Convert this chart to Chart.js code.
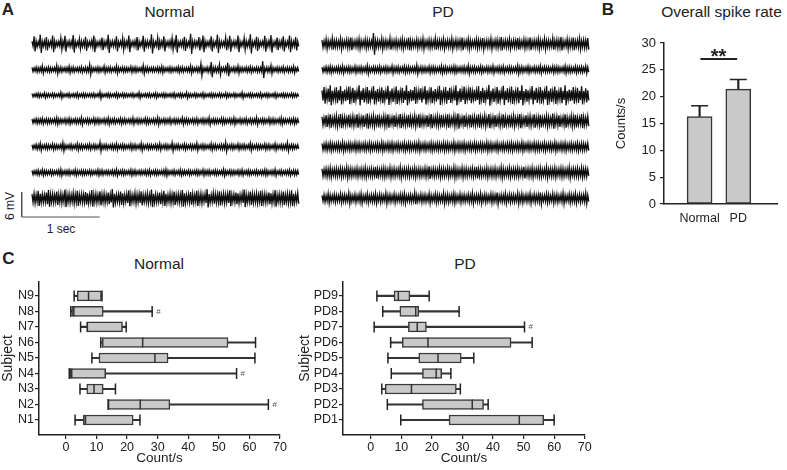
<!DOCTYPE html>
<html>
<head>
<meta charset="utf-8">
<script src="https://cdn.jsdelivr.net/npm/chart.js@4.4.1/dist/chart.umd.min.js"></script>
<style>
  body { margin: 0; background: #fff; }
  #page { position: relative; width: 787px; height: 470px; overflow: hidden; font-family: 'Liberation Sans', Arial, sans-serif; color: #222; }
  canvas { position: absolute; }
  .lbl { position: absolute; white-space: nowrap; line-height: 1; transform: translate(-50%, -50%); }
  .head { font-size: 15.5px; }
  .panel { font-size: 17px; font-weight: bold; }
  .small { font-size: 12px; }
</style>
</head>
<body>
<div id="page">
  <div class="lbl panel" style="left:8px; top:9px;">A</div>
  <div class="lbl panel" style="left:608px; top:9px;">B</div>
  <div class="lbl panel" style="left:8.5px; top:258px;">C</div>

  <div class="lbl head" style="left:169.5px; top:11.5px;">Normal</div>
  <div class="lbl head" style="left:443px; top:11.5px;">PD</div>
  <div class="lbl head" style="left:721.5px; top:12px;">Overall spike rate</div>
  <div class="lbl head" style="left:159px; top:264px;">Normal</div>
  <div class="lbl head" style="left:465px; top:264px;">PD</div>

  <div class="lbl small" style="left:9.5px; top:206px; transform: translate(-50%, -50%) rotate(-90deg);">6 mV</div>
  <div class="lbl small" style="left:61px; top:229px;">1 sec</div>

  <canvas id="traceNormal" width="290" height="195" style="left:15px; top:28px;"></canvas>
  <canvas id="tracePD" width="275" height="195" style="left:318px; top:28px;"></canvas>
  <canvas id="rateChart" width="187" height="215" style="left:600px; top:25px;"></canvas>
  <canvas id="boxNormal" width="300" height="200" style="left:0px; top:270px;"></canvas>
  <canvas id="boxPD" width="313" height="200" style="left:297px; top:270px;"></canvas>
</div>

<script>
// ---- A: raw traces, envelope per bin (0.1 mV units), top trace first ----
const normalTrace1 = [6,18,7,5,22,6,7,16,5,6,20,7,5,6,14,6,19,5,7,6,21,6,5,12,7,6,17,5,6,8,20,6,5,7,15,6,6,22,5,7,6,18,5,6,14,7,6,20,5,6,7,16,6,5,19,6,7,5,23,6,5,15,7,6,18,5,6,7,14,6,21,5,6,7,17,6,5,24,6,7,5,16,6,20,7,5,6,18,6,5,22,7,6,5,15,6,19,5,7,6,20,6,5,14,7,6,23,5,6,17,7,5,6,19,6,7,21,5,6,15,6,7,18,5,6,20,7,6,16,6];
const normalTrace2 = [5,4,6,5,5,9,4,5,6,5,4,5,10,5,6,4,5,5,8,5,6,4,5,5,7,4,6,5,12,5,4,5,6,5,4,8,5,5,6,4,5,9,5,4,6,5,5,4,7,5,6,5,4,5,10,5,6,4,5,5,4,6,5,8,5,4,5,6,5,4,5,7,5,6,4,5,5,9,5,4,6,5,14,5,4,6,5,18,5,6,5,12,4,5,6,16,5,4,6,5,9,5,5,4,6,5,7,5,4,6,5,5,20,4,6,5,10,5,4,6,5,5,7,4,6,5,5,8,4,5];
const normalTrace3 = [4,3,4,5,4,3,6,4,4,3,5,4,3,4,7,4,3,4,5,3,4,4,6,3,4,5,4,3,4,4,5,3,4,8,4,3,4,5,4,3,4,6,4,3,5,4,4,3,4,5,3,4,7,4,3,4,4,5,3,4,6,4,3,4,5,4,3,4,4,6,3,4,5,4,3,7,4,4,3,5,4,3,4,6,4,3,4,5,4,4,3,5,4,3,6,4,4,3,5,4,3,4,7,4,3,4,5,4,3,4,4,6,3,4,5,4,3,4,6,4,3,4,5,4,4,3,5,4,4,3];
const normalTrace4 = [5,4,6,5,5,7,4,6,5,5,4,6,8,5,5,4,6,5,7,5,4,6,5,5,9,4,5,6,5,4,7,5,6,5,4,6,5,8,5,5,6,4,5,7,5,6,4,5,5,8,4,6,5,5,4,7,6,5,4,6,5,9,5,4,6,5,5,7,4,6,5,5,4,8,5,6,5,4,6,5,7,4,5,6,5,5,9,4,6,5,5,4,7,6,5,4,6,5,8,5,4,6,5,5,7,4,6,5,5,9,4,5,6,5,4,7,5,6,5,4,6,8,5,5,4,6,5,7,5,5];
const normalTrace5 = [5,4,6,5,9,4,5,6,5,4,7,5,5,4,6,10,5,4,5,6,4,5,8,5,6,4,5,5,7,4,6,5,4,11,5,5,6,4,5,6,5,8,4,5,6,5,4,5,7,5,6,4,5,9,5,4,6,5,5,4,6,5,8,4,5,6,5,4,10,5,5,6,4,5,7,5,4,6,5,5,9,4,5,6,5,4,5,8,5,6,4,5,6,5,11,4,5,6,5,4,7,5,5,6,4,5,9,5,4,6,5,5,4,7,5,6,4,5,8,5,4,6,5,5,10,4,6,5,4,5];
const normalTrace6 = [5,4,5,6,4,7,5,5,4,6,5,4,5,6,8,4,5,5,6,4,5,7,5,4,6,5,5,4,6,5,4,5,7,5,6,4,5,5,4,6,5,8,4,5,6,5,4,5,7,5,6,4,5,5,4,6,5,7,4,5,6,5,4,5,6,8,5,4,5,6,4,5,7,5,5,4,6,5,4,5,6,5,4,7,5,5,6,4,5,6,5,4,5,8,5,4,6,5,5,4,6,5,7,4,5,6,5,4,5,6,4,5,5,7,6,4,5,5,8,4,5,6,4,5,5,7,4,6,5,5];
const normalTrace7 = [10,12,9,18,11,10,9,14,20,10,11,9,16,10,12,9,21,10,11,9,13,10,18,9,11,10,15,12,9,20,10,11,9,17,10,12,9,14,10,22,11,9,10,16,12,9,11,19,10,9,13,10,11,17,9,10,12,9,21,11,10,9,14,10,18,11,9,12,10,16,9,11,10,20,12,9,10,15,11,9,18,10,12,9,11,22,10,9,13,11,10,17,9,12,10,11,19,9,10,14,12,9,11,21,10,9,16,11,10,12,9,18,10,11,9,14,12,10,20,9,11,10,16,9,12,10,19,11,9,13];

const pdTrace1 = [9,7,12,8,7,14,8,9,7,13,8,7,10,9,15,7,8,9,12,8,7,11,9,8,7,26,8,9,7,13,8,9,7,14,8,8,10,7,9,12,8,7,15,9,8,7,11,8,9,13,7,8,10,9,7,14,8,9,8,12,7,9,8,13,7,10,8,9,15,7,8,12,9,7,8,11,9,8,14,7,9,8,13,7,9,10,8,16,7,9,8,12,7,9,8,14,8,7,11,9,8,15,7,9,8,12,9,7,13,8,9,7,14,8,10,9,16,8,7,12,9,8,15,7,9,13,8,10,9,14];
const pdTrace2 = [6,5,7,6,8,6,5,6,7,6,9,5,6,7,6,5,8,6,6,7,5,6,10,6,5,7,6,6,8,5,6,7,6,5,9,6,6,7,5,6,8,6,7,5,6,6,11,5,7,6,6,5,8,6,7,6,5,6,9,6,7,5,6,6,8,7,5,6,6,7,5,10,6,6,7,5,6,8,6,5,7,6,6,9,5,6,7,6,8,5,6,7,6,5,6,10,6,7,5,6,8,6,5,7,6,6,9,5,7,6,6,5,8,6,7,6,5,6,9,6,7,6,5,8,6,6,7,5,9,6];
const pdTrace3 = [12,20,10,16,24,11,10,19,12,22,10,14,11,21,10,18,12,10,24,11,17,10,20,12,10,22,11,15,10,19,12,10,23,11,16,10,21,12,10,18,11,24,10,14,12,20,10,11,17,10,22,12,10,19,11,15,10,23,12,10,20,11,18,10,12,24,10,16,11,21,10,12,19,10,14,11,22,10,18,12,10,25,11,16,10,20,12,10,23,11,17,10,21,12,10,19,11,24,10,15,12,10,22,11,18,10,20,12,10,23,11,16,10,21,12,10,19,11,24,10,14,12,20,10,18,11,22,10,17,12];
const pdTrace4 = [10,8,14,9,16,8,10,13,8,17,9,10,8,15,9,12,8,16,10,9,14,8,18,9,10,13,8,15,9,8,12,10,16,8,9,14,10,8,17,9,11,8,15,10,9,13,8,16,9,10,8,14,9,17,8,10,12,9,15,8,10,16,9,8,13,10,18,8,9,14,10,8,15,9,11,8,16,10,9,13,8,17,9,10,14,8,12,9,16,10,8,15,9,13,8,10,17,9,8,14,10,12,8,16,9,10,15,8,9,13,10,8,18,9,11,14,8,10,16,9,8,13,10,15,9,8,17,10,9,12];
const pdTrace5 = [8,7,9,7,10,8,7,8,9,7,11,8,7,9,8,7,10,8,9,7,8,9,7,10,8,7,8,9,7,11,8,7,9,8,10,7,8,9,7,8,10,7,9,8,7,9,8,11,7,8,9,7,8,10,8,7,9,8,7,10,8,9,7,8,11,7,9,8,8,10,7,8,9,7,10,8,7,9,8,7,11,8,9,7,8,10,7,8,9,7,9,8,10,7,8,9,7,11,8,7,9,8,7,10,8,9,7,8,10,7,8,9,7,11,8,7,9,8,10,7,8,9,7,8,10,7,9,8,7,9];
const pdTrace6 = [9,8,10,9,12,8,9,10,8,11,9,8,13,9,10,8,9,11,8,10,9,12,8,9,10,8,14,9,8,10,11,9,8,12,9,10,8,9,13,8,10,9,11,8,9,12,8,10,9,8,11,9,15,8,10,9,8,12,9,10,8,11,9,8,13,10,9,8,12,9,10,8,9,11,8,14,9,10,8,9,12,8,10,9,11,8,9,13,10,8,9,12,8,10,9,11,8,9,14,8,10,9,12,8,9,10,11,8,9,13,8,10,9,12,8,9,11,10,8,9,13,8,10,9,11,8,12,9,10,8];
const pdTrace7 = [7,9,7,12,8,7,10,8,7,11,8,9,7,13,8,7,10,7,9,12,7,8,11,7,9,8,12,7,10,8,7,13,8,9,7,11,8,7,10,9,12,7,8,9,7,14,8,7,10,8,9,7,12,8,7,11,9,8,7,13,8,10,7,9,12,8,7,11,8,9,7,10,8,13,7,9,8,12,7,10,8,7,11,9,8,14,7,9,8,12,7,10,8,9,7,13,8,11,7,9,8,12,7,10,8,9,14,7,8,11,9,7,12,8,10,7,9,13,8,7,11,9,8,12,7,10,8,9,13,8];

// ---- B: overall spike rate ----
const groups = ['Normal', 'PD'];
const rateMean = [16.3, 21.4];
const rateErr = [2.0, 1.8];
const rateTicks = [0, 5, 10, 15, 20, 25, 30];
const sigLevel = 27.0;

// ---- C: spike rate per subject (N1/PD1 first) ----
const normalSubjects = ['N1', 'N2', 'N3', 'N4', 'N5', 'N6', 'N7', 'N8', 'N9'];
const normalMin = [3.0, 13.8, 4.6, 1.1, 8.5, 11.4, 4.8, 1.6, 2.7];
const normalQ1 = [5.7, 13.8, 6.8, 1.3, 10.8, 11.9, 6.8, 1.9, 3.7];
const normalMed = [6.4, 24.3, 9.2, 1.9, 29.1, 25.1, 7.0, 2.6, 7.4];
const normalQ3 = [22.0, 34.0, 12.2, 13.0, 33.4, 53.0, 18.5, 12.2, 11.6];
const normalMax = [24.2, 66.2, 16.2, 55.8, 61.8, 62.0, 19.7, 28.2, 11.8];
const normalFlagged = [2, 4, 8];

const pdSubjects = ['PD1', 'PD2', 'PD3', 'PD4', 'PD5', 'PD6', 'PD7', 'PD8', 'PD9'];
const pdMin = [9.8, 5.4, 3.6, 6.7, 5.6, 6.5, 1.1, 3.9, 2.0];
const pdQ1 = [25.6, 16.9, 4.7, 16.9, 15.7, 10.3, 12.3, 9.5, 7.6];
const pdMed = [48.6, 33.2, 13.3, 21.4, 22.0, 18.7, 15.2, 14.7, 9.0];
const pdQ3 = [56.6, 36.9, 28.0, 23.2, 29.6, 45.9, 18.2, 15.7, 12.8];
const pdMax = [60.0, 38.4, 29.3, 26.2, 33.7, 52.8, 50.3, 28.9, 19.1];
const pdFlagged = [7];

const countTicks = [0, 10, 20, 30, 40, 50, 60, 70];

Chart.defaults.font.family = "'Liberation Sans', Arial, sans-serif";
Chart.defaults.color = '#222';

const ink = '#222';
const boxFill = '#c9c9c9';
const traceSeconds = 3.42;
const traceTop = 43.0;
const traceGap = 6.18;

// trace envelope -> up/down zigzag line
function zigzag(amp, offset) {
    const step = traceSeconds / (amp.length - 0.5);
    const pts = [];
    amp.forEach(function(a, i) {
        pts.push({ x: i * step, y: offset + a / 10 });
        pts.push({ x: (i + 0.5) * step, y: offset - a / 10 });
    });
    return pts;
}

function traceChart(id, traces, xMin, xMax, withBar) {
    const datasets = traces.map(function(amp, i) {
        return {
            data: zigzag(amp, traceTop - i * traceGap),
            borderColor: '#0e0e0e',
            borderWidth: 1.3
        };
    });
    if (withBar) {
        // 6 mV / 1 sec scale bar
        const bx = -0.132, by = 1.44;
        datasets.push({
            data: [{ x: bx, y: by + 6 }, { x: bx, y: by }, { x: bx + 1, y: by }],
            borderColor: '#555',
            borderWidth: 1
        });
    }
    new Chart(document.getElementById(id), {
        type: 'line',
        data: { datasets: datasets },
        options: {
            responsive: false,
            animation: false,
            events: [],
            layout: { padding: 0 },
            elements: { point: { radius: 0 }, line: { tension: 0 } },
            plugins: { legend: { display: false }, tooltip: { enabled: false } },
            scales: {
                x: { type: 'linear', display: false, min: xMin, max: xMax },
                y: { type: 'linear', display: false, min: 0, max: 46.8 }
            }
        }
    });
}

traceChart('traceNormal', [normalTrace1, normalTrace2, normalTrace3, normalTrace4, normalTrace5, normalTrace6, normalTrace7], -0.218, 3.5, true);
traceChart('tracePD', [pdTrace1, pdTrace2, pdTrace3, pdTrace4, pdTrace5, pdTrace6, pdTrace7], -0.051, 3.474, false);

// ---- B ----
const starsPlugin = {
    id: 'stars',
    afterDatasetsDraw(chart) {
        const { ctx, scales: { x, y } } = chart;
        ctx.save();
        ctx.font = "bold 20px 'Liberation Sans', Arial, sans-serif";
        ctx.fillStyle = ink;
        ctx.textAlign = 'center';
        ctx.textBaseline = 'alphabetic';
        ctx.fillText('**', x.getPixelForValue(1.49), y.getPixelForValue(sigLevel) + 4);
        ctx.restore();
    }
};

new Chart(document.getElementById('rateChart'), {
    type: 'bar',
    data: {
        datasets: [
            {
                type: 'scatter',
                data: rateMean.map((m, i) => ({ x: i + 1, y: m + rateErr[i] })),
                pointStyle: 'line', pointRadius: 8.5, rotation: 0,
                borderColor: ink, borderWidth: 1.5, order: 0
            },
            {
                type: 'line',
                data: [{ x: 1.02, y: sigLevel }, { x: 1.97, y: sigLevel }],
                borderColor: ink, borderWidth: 2, pointRadius: 0, order: 0
            },
            {
                data: rateMean.map((m, i) => ({ x: i + 1, y: m })),
                backgroundColor: boxFill, borderColor: '#333', borderWidth: 1.5,
                borderSkipped: false, barThickness: 25, grouped: false, order: 1
            },
            {
                data: rateMean.map((m, i) => ({ x: i + 1, y: [m, m + rateErr[i]] })),
                backgroundColor: ink, borderWidth: 0,
                barThickness: 1.5, grouped: false, order: 2
            }
        ]
    },
    options: {
        responsive: false,
        animation: false,
        events: [],
        layout: { padding: { top: 18, right: 3, left: 0, bottom: 0 } },
        plugins: { legend: { display: false }, tooltip: { enabled: false } },
        scales: {
            x: {
                type: 'linear', min: 0.08, max: 3.0, offset: false,
                afterBuildTicks: s => { s.ticks = groups.map((g, i) => ({ value: i + 1 })); },
                afterFit: s => { s.height = 36; },
                ticks: { callback: v => groups[v - 1], font: { size: 12.5 }, color: ink, padding: 7, autoSkip: false },
                grid: { display: true, offset: false, drawOnChartArea: false, drawTicks: false },
                border: { color: ink, width: 1.5 }
            },
            y: {
                type: 'linear', min: 0, max: 30, offset: false,
                afterBuildTicks: s => { s.ticks = rateTicks.map(v => ({ value: v })); },
                afterFit: s => { s.width = 64; },
                ticks: { font: { size: 13 }, color: ink, padding: 4 },
                grid: { offset: false, drawOnChartArea: false, tickLength: 4, color: ink, lineWidth: 1.2 },
                border: { color: ink, width: 1.5 },
                title: { display: true, text: 'Counts/s', font: { size: 13 }, color: ink, padding: { top: 14, bottom: 0 } }
            }
        }
    },
    plugins: [starsPlugin]
});

// ---- C ----
function boxChart(id, names, mins, q1s, meds, q3s, maxs, flagged, xMin, xMax, yWidth, padRight) {
    const rows = names.map((n, i) => i + 1);
    const spans = (a, b) => rows.map((r, i) => ({ y: r, x: [a[i], b[i]] }));
    const points = arr => rows.map((r, i) => ({ x: arr[i], y: r }));

    const flagPlugin = {
        id: 'flags',
        afterDatasetsDraw(chart) {
            const { ctx, scales: { x, y } } = chart;
            ctx.save();
            ctx.font = "8px 'Liberation Sans', Arial, sans-serif";
            ctx.fillStyle = '#555';
            ctx.textBaseline = 'middle';
            flagged.forEach(r => ctx.fillText('#', x.getPixelForValue(maxs[r - 1]) + 4, y.getPixelForValue(r)));
            ctx.restore();
        }
    };

    const axisGrid = { offset: false, drawOnChartArea: false, tickLength: 4, color: ink, lineWidth: 1.2 };

    new Chart(document.getElementById(id), {
        type: 'bar',
        data: {
            datasets: [
                {
                    type: 'scatter', data: points(meds),
                    pointStyle: 'line', rotation: 90, pointRadius: 5,
                    borderColor: '#333', borderWidth: 1.5, order: 0
                },
                {
                    type: 'scatter', data: points(mins).concat(points(maxs)),
                    pointStyle: 'line', rotation: 90, pointRadius: 5.5,
                    borderColor: ink, borderWidth: 1.5, order: 0
                },
                {
                    indexAxis: 'y', data: spans(q1s, q3s),
                    backgroundColor: boxFill, borderColor: '#3a3a3a', borderWidth: 1.5,
                    borderSkipped: false, barThickness: 10, grouped: false, order: 1
                },
                {
                    indexAxis: 'y', data: spans(mins, maxs),
                    backgroundColor: '#333', borderWidth: 0,
                    barThickness: 1.5, grouped: false, order: 2
                }
            ]
        },
        options: {
            responsive: false,
            animation: false,
            events: [],
            layout: { padding: { top: 12, right: padRight, left: 0, bottom: 0 } },
            plugins: { legend: { display: false }, tooltip: { enabled: false } },
            scales: {
                x: {
                    type: 'linear', min: xMin, max: xMax, offset: false,
                    afterBuildTicks: s => { s.ticks = countTicks.map(v => ({ value: v })); },
                    afterFit: s => { s.height = 35; },
                    ticks: { font: { size: 12.5 }, color: ink, padding: 1 },
                    grid: axisGrid,
                    border: { color: ink, width: 1.5 },
                    title: { display: true, text: 'Count/s', font: { size: 13.5 }, color: ink, padding: { top: 0, bottom: 4 } }
                },
                y: {
                    type: 'linear', min: 0.03, max: 9.9, offset: false,
                    afterBuildTicks: s => { s.ticks = rows.map(v => ({ value: v })); },
                    afterFit: s => { s.width = yWidth; },
                    ticks: { callback: v => names[v - 1], font: { size: 12.5 }, color: ink, padding: 1, autoSkip: false },
                    grid: axisGrid,
                    border: { color: ink, width: 1.5 },
                    title: { display: true, text: 'Subject', font: { size: 14 }, color: ink, padding: 0 }
                }
            }
        },
        plugins: [flagPlugin]
    });
}

boxChart('boxNormal', normalSubjects, normalMin, normalQ1, normalMed, normalQ3, normalMax, normalFlagged, -8.8, 70, 39, 20);
boxChart('boxPD', pdSubjects, pdMin, pdQ1, pdMed, pdQ3, pdMax, pdFlagged, -9.1, 70.1, 46, 25);
</script>
</body>
</html>
